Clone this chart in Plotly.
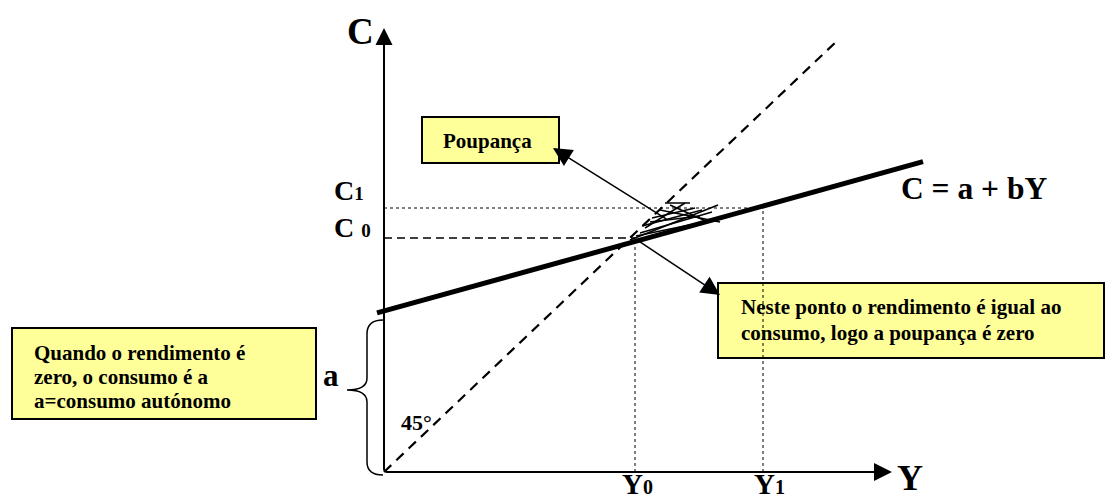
import plotly.graph_objects as go

# ---- model values (diagram units: Y to the right, C upward, origin at axes crossing)
a = 161            # autonomous consumption (intercept)
b = 0.277          # marginal propensity to consume
Y0 = 251           # income where C = Y
Y1 = 379
C0 = 234
C1 = 264
cons_Y = [-7, 539]                      # extent of consumption line
line45_Y = [0, 455]
line45_C = [0, 433]
yaxis_top = 444
xaxis_right = 508

# scribbled "poupança" area between the two lines
hatch_Y = [[246, 334], [256, 328], [266, 316], [281, 306], [276, 336], [286, 324], [268, 311], [261, 301], [252, 320], [258, 318]]
hatch_C = [[232, 267], [239, 260], [250, 256], [269, 269], [262, 250], [267, 250], [254, 264], [244, 269], [236, 250], [246, 262]]

FONT = "Liberation Serif"
YELLOW = "#FFFF99"

fig = go.Figure()

# 45 degree line
fig.add_trace(go.Scatter(x=line45_Y, y=line45_C, mode="lines",
                         line=dict(color="black", width=2.2, dash="10px,7px")))
# consumption function
cons_C = [a + b * y for y in cons_Y]
fig.add_trace(go.Scatter(x=cons_Y, y=cons_C, mode="lines",
                         line=dict(color="black", width=5)))
# C0 dashed
fig.add_trace(go.Scatter(x=[0, Y0], y=[C0, C0], mode="lines",
                         line=dict(color="black", width=1.5, dash="8px,5px")))
# C1 dotted
fig.add_trace(go.Scatter(x=[0, Y1], y=[C1, C1], mode="lines",
                         line=dict(color="black", width=1, dash="dot")))
# Y0 and Y1 dotted verticals
fig.add_trace(go.Scatter(x=[Y0, Y0, None, Y1, Y1], y=[0, C0, None, 0, C1], mode="lines",
                         line=dict(color="black", width=1, dash="dot")))
# hatch
hx, hy = [], []
for xs, ys in zip(hatch_Y, hatch_C):
    hx += xs + [None]
    hy += ys + [None]
fig.add_trace(go.Scatter(x=hx, y=hy, mode="lines", line=dict(color="black", width=1.5)))

ann = []
# axes with arrows
ann.append(dict(x=0, y=yaxis_top, ax=0, ay=0, xref="x", yref="y", axref="x", ayref="y",
                text="", showarrow=True, arrowhead=2, arrowsize=1.7, arrowwidth=2, arrowcolor="black"))
ann.append(dict(x=xaxis_right, y=0, ax=0, ay=0, xref="x", yref="y", axref="x", ayref="y",
                text="", showarrow=True, arrowhead=2, arrowsize=1.8, arrowwidth=2, arrowcolor="black"))
# pointer arrows
ann.append(dict(x=169, y=324, ax=284, ay=252, xref="x", yref="y", axref="x", ayref="y",
                text="", showarrow=True, arrowhead=2, arrowsize=2.5, arrowwidth=1.5, arrowcolor="black"))
ann.append(dict(x=336, y=177, ax=250, ay=234, xref="x", yref="y", axref="x", ayref="y",
                text="", showarrow=True, arrowhead=2, arrowsize=2.5, arrowwidth=1.5, arrowcolor="black"))

def label(x, y, text, size, xanchor="center"):
    ann.append(dict(x=x, y=y, xref="x", yref="y", text=text, showarrow=False,
                    xanchor=xanchor, yanchor="middle",
                    font=dict(family=FONT, size=size, color="black", weight="bold")))

label(-24, 441, "C", 37)
label(-52, 282, "C<span style='font-size:19px'>1</span>", 28, "left")
label(-52, 245, "C <span style='font-size:19px'>0</span>", 28, "left")
label(236, -12, "Y<span style='font-size:20px'>0</span>", 29, "left")
label(368, -12, "Y<span style='font-size:20px'>1</span>", 29, "left")
label(511, -6, "Y", 36, "left")
label(515, 284, "C = a + bY", 31.5, "left")
label(-53, 97, "a", 31)
label(32, 50, "45°", 22)

# text boxes
shapes = []
def box(x0, y0, x1, y1):
    shapes.append(dict(type="rect", xref="x", yref="y", x0=x0, y0=y0, x1=x1, y1=y1,
                       fillcolor=YELLOW, line=dict(color="black", width=2), layer="below"))

box(38, 309, 175, 355)
label(103, 331, "Poupança", 21)
box(334, 114, 720, 189)
label(355, 165, "Neste ponto o rendimento é igual ao", 21, "left")
label(355, 139, "consumo, logo a poupança é zero", 21, "left")
box(-372, 53, -68, 144)
label(-352, 119, "Quando o rendimento é", 21, "left")
label(-352, 95, "zero, o consumo é a", 21, "left")
label(-352, 71, "a=consumo autónomo", 21, "left")

# brace for "a"
shapes.append(dict(type="path", xref="x", yref="y",
                   path="M -1,152 Q -17,152 -17,138 L -17,94 Q -17,82 -37,82 Q -17,82 -17,70 L -17,10 Q -17,-3 -1,-3",
                   line=dict(color="black", width=1.5)))

fig.update_layout(
    width=1106, height=499, margin=dict(l=0, r=0, t=0, b=0),
    paper_bgcolor="white", plot_bgcolor="white", showlegend=False,
    xaxis=dict(range=[-384, 722], visible=False, fixedrange=True),
    yaxis=dict(range=[-27, 472], visible=False, fixedrange=True),
    annotations=ann, shapes=shapes,
)
fig.write_html("out.html", config={"displayModeBar": False},
               post_script="document.body.style.margin='0';document.body.style.overflow='hidden';")
